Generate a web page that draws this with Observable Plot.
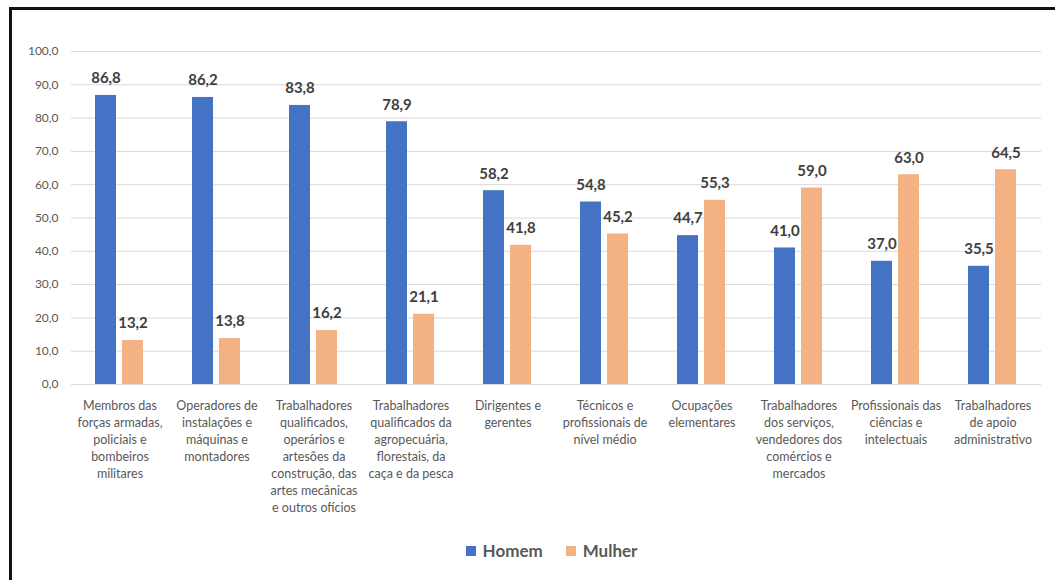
<!DOCTYPE html>
<html>
<head>
<meta charset="utf-8">
<script src="https://cdn.jsdelivr.net/npm/d3@7"></script>
<script src="https://cdn.jsdelivr.net/npm/@observablehq/plot@0.6"></script>
<style>
  html, body { margin: 0; padding: 0; background: #fff; }
  #page { position: relative; width: 1055px; height: 580px; overflow: hidden; font-family: Lato, "Open Sans", sans-serif; }
  #frame { position: absolute; left: 9px; top: 7px; width: 1046px; height: 573px; box-sizing: border-box;
           border-top: 3px solid #111; border-left: 3px solid #111; pointer-events: none; }
  #chart { position: absolute; left: 0; top: 0; }
  #legend { position: absolute; left: 24px; top: 540px; width: 1055px; display: flex; justify-content: center;
            gap: 23px; font-size: 17px; font-weight: bold; color: #595959; }
  #legend .item { display: flex; align-items: center; gap: 7px; }
  #legend .sw { width: 10px; height: 10px; display: inline-block; }
</style>
</head>
<body>
<div id="page">
  <div id="chart"></div>
  <div id="legend"></div>
  <div id="frame"></div>
</div>
<script>
// Occupation groups (x axis)
const categories = [
  "Membros das forças armadas, policiais e bombeiros militares",
  "Operadores de instalações e máquinas e montadores",
  "Trabalhadores qualificados, operários e artesões da construção, das artes mecânicas e outros ofícios",
  "Trabalhadores qualificados da agropecuária, florestais, da caça e da pesca",
  "Dirigentes e gerentes",
  "Técnicos e profissionais de nível médio",
  "Ocupações elementares",
  "Trabalhadores dos serviços, vendedores dos comércios e mercados",
  "Profissionais das ciências e intelectuais",
  "Trabalhadores de apoio administrativo"
];

// Category labels as they wrap under each group
const tickLabels = [
  "Membros das\nforças armadas,\npoliciais e\nbombeiros\nmilitares",
  "Operadores de\ninstalações e\nmáquinas e\nmontadores",
  "Trabalhadores\nqualificados,\noperários e\nartesões da\nconstrução, das\nartes mecânicas\ne outros ofícios",
  "Trabalhadores\nqualificados da\nagropecuária,\nflorestais, da\ncaça e da pesca",
  "Dirigentes e\ngerentes",
  "Técnicos e\nprofissionais de\nnível médio",
  "Ocupações\nelementares",
  "Trabalhadores\ndos serviços,\nvendedores dos\ncomércios e\nmercados",
  "Profissionais das\nciências e\nintelectuais",
  "Trabalhadores\nde apoio\nadministrativo"
];

// Share (%) by sex in each occupation group
const homem  = [86.8, 86.2, 83.8, 78.9, 58.2, 54.8, 44.7, 41.0, 37.0, 35.5];
const mulher = [13.2, 13.8, 16.2, 21.1, 41.8, 45.2, 55.3, 59.0, 63.0, 64.5];

const series = ["Homem", "Mulher"];
const colors = ["#4472C4", "#F4B183"];
const yTicks = [0, 10, 20, 30, 40, 50, 60, 70, 80, 90, 100];

const fmt = v => v.toFixed(1).replace(".", ",");

const rows = categories.flatMap((c, i) => [
  {categoria: c, sexo: "Homem", valor: homem[i]},
  {categoria: c, sexo: "Mulher", valor: mulher[i]}
]);
const labelRows = categories.map((c, i) => ({categoria: c, rotulo: tickLabels[i]}));

const chart = Plot.plot({
  width: 1055,
  height: 530,
  marginLeft: 68,
  marginRight: 12,
  marginTop: 51,
  marginBottom: 146,
  style: {fontFamily: "Lato, 'Open Sans', sans-serif", background: "transparent"},
  fx: {domain: categories, padding: 0, axis: null},
  x: {domain: series, paddingInner: 0.214, paddingOuter: 0.848, axis: null},
  y: {domain: [0, 100], axis: null},
  color: {domain: series, range: colors},
  marks: [
    Plot.gridY(yTicks, {stroke: "#d9d9d9", strokeOpacity: 1, strokeWidth: 1}),
    Plot.axisY({ticks: yTicks, tickSize: 0, tickPadding: 13, tickFormat: fmt,
                fontSize: 12, fill: "#595959", label: null}),
    Plot.barY(rows, {fx: "categoria", x: "sexo", y: "valor", fill: "sexo"}),
    Plot.text(rows, {fx: "categoria", x: "sexo", y: "valor", text: d => fmt(d.valor),
                     dy: -17, fontSize: 15, fontWeight: "bold", fill: "#404040"}),
    Plot.text(labelRows, {fx: "categoria", text: "rotulo", frameAnchor: "bottom",
                          lineAnchor: "top", dy: 13, lineHeight: 1.36,
                          fontSize: 12.5, fill: "#595959"})
  ]
});
document.getElementById("chart").append(chart);

// Legend below the chart
const legend = document.getElementById("legend");
series.forEach((s, i) => {
  const item = document.createElement("span");
  item.className = "item";
  const sw = document.createElement("span");
  sw.className = "sw";
  sw.style.background = colors[i];
  const t = document.createElement("span");
  t.textContent = s;
  item.append(sw, t);
  legend.append(item);
});
</script>
</body>
</html>
